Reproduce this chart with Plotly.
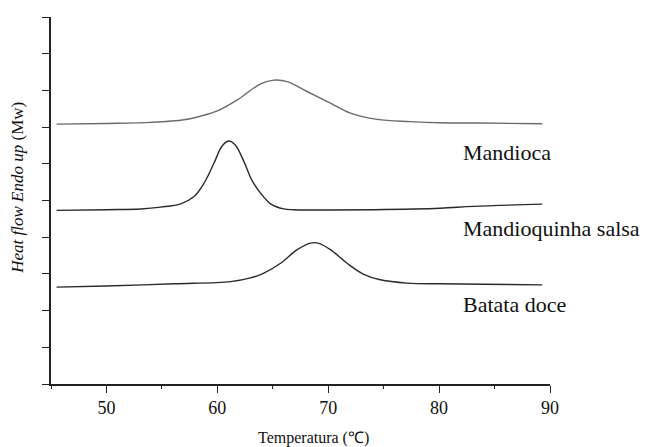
import plotly.graph_objects as go

# Series names
names = ["Mandioca", "Mandioquinha salsa", "Batata doce"]

# Temperature (°C) / heat flow (arbitrary, stacked)
mandioca_x = [45.5, 50.0, 54.0, 57.0, 58.5, 60.0, 61.8, 63.9, 65.1, 66.3, 68.1, 70.2, 72.0, 74.4, 77.4, 80.1, 83.7, 89.3]
mandioca_y = [7.08, 7.10, 7.13, 7.20, 7.30, 7.44, 7.74, 8.18, 8.28, 8.24, 7.97, 7.65, 7.38, 7.21, 7.15, 7.12, 7.11, 7.09]

mandioquinha_x = [45.5, 50.0, 53.1, 54.9, 56.7, 57.9, 58.8, 59.7, 60.4, 61.0, 61.6, 62.4, 63.1, 63.9, 64.8, 66.0, 66.9,
                  70.0, 74.1, 80.1, 83.1, 89.3]
mandioquinha_y = [4.73, 4.75, 4.77, 4.82, 4.91, 5.11, 5.47, 6.02, 6.47, 6.62, 6.52, 6.06, 5.56, 5.20, 4.91, 4.77, 4.75,
                  4.74, 4.75, 4.79, 4.84, 4.90]

batata_x = [45.5, 50.0, 56.1, 61.2, 63.0, 64.2, 65.7, 67.2, 68.4, 69.1, 70.2, 71.7, 73.2, 74.7, 77.1, 80.1, 84.0, 89.3]
batata_y = [2.64, 2.67, 2.73, 2.79, 2.89, 3.02, 3.29, 3.66, 3.84, 3.84, 3.66, 3.29, 2.99, 2.84, 2.75, 2.73, 2.72, 2.70]

# Label positions (data coords) for curve names
label_x = [82.0, 82.0, 82.0]
label_y = [6.32, 4.25, 2.16]

x_title = "Temperatura (℃)"
y_title = "<i>Heat flow Endo up</i> (Mw)"

colors = ["#6a6a6a", "#2a2a2a", "#2a2a2a"]
series = [(mandioca_x, mandioca_y), (mandioquinha_x, mandioquinha_y), (batata_x, batata_y)]

fig = go.Figure()
for (xs, ys), name, c in zip(series, names, colors):
    fig.add_trace(go.Scatter(x=xs, y=ys, mode="lines", name=name,
                             line=dict(color=c, width=1.4, shape="spline", smoothing=1.0)))

serif = "Liberation Serif, Times New Roman, serif"
annotations = []
for nm, lx, ly in zip(names, label_x, label_y):
    annotations.append(dict(x=lx, y=ly, xref="x", yref="y", text=nm, showarrow=False,
                            xanchor="left", yanchor="middle",
                            font=dict(family=serif, size=22, color="#111")))
annotations.append(dict(x=0.5265, y=-0.146, xref="paper", yref="paper", text=x_title,
                        showarrow=False, xanchor="center", yanchor="middle",
                        font=dict(family=serif, size=16, color="#111")))
annotations.append(dict(x=-0.066, y=0.535, xref="paper", yref="paper", text=y_title,
                        showarrow=False, xanchor="center", yanchor="middle", textangle=-90,
                        font=dict(family=serif, size=17, color="#111")))

fig.update_layout(
    width=650, height=447,
    margin=dict(l=51, r=100, t=17, b=63),
    paper_bgcolor="white", plot_bgcolor="white",
    showlegend=False,
    font=dict(family=serif, color="#111"),
    annotations=annotations,
    xaxis=dict(range=[45, 90], tick0=50, dtick=10, ticks="outside", ticklen=7,
               tickwidth=1.3, tickcolor="#222", showline=True, linecolor="#222", linewidth=1.5,
               showgrid=False, zeroline=False, tickfont=dict(family=serif, size=18, color="#111"),
               minor=dict(dtick=5, tick0=45, ticks="outside", ticklen=3, tickcolor="#222", tickwidth=1.3)),
    yaxis=dict(range=[0, 10], tick0=0, dtick=1, ticks="outside", ticklen=7, tickwidth=1.3,
               tickcolor="#222", showline=True, linecolor="#222", linewidth=1.5,
               showgrid=False, zeroline=False, showticklabels=False),
)

fig.write_html("out.html")
